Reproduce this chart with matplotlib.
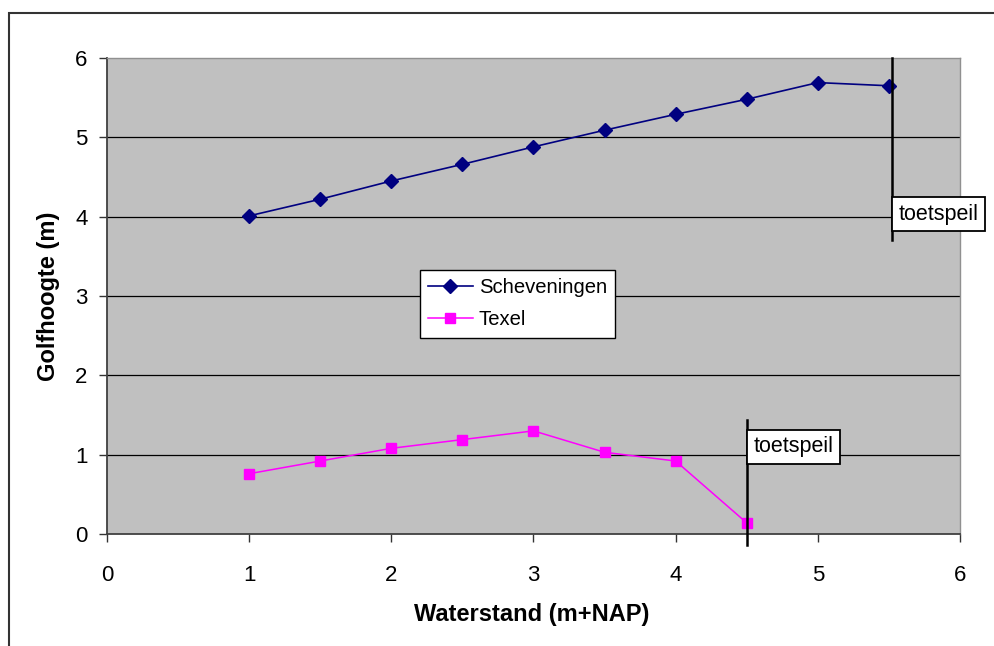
import matplotlib
matplotlib.use("Agg")
import matplotlib.pyplot as plt
from matplotlib.patches import Rectangle

plt.rcParams['font.family'] = ['Liberation Sans', 'DejaVu Sans']

# golfhoogte bij verschillende waterstanden
waterstand = [1.0, 1.5, 2.0, 2.5, 3.0, 3.5, 4.0, 4.5, 5.0, 5.5]
scheveningen = [4.01, 4.22, 4.45, 4.66, 4.88, 5.09, 5.29, 5.48, 5.69, 5.65]
waterstand_texel = [1.0, 1.5, 2.0, 2.5, 3.0, 3.5, 4.0, 4.5]
texel = [0.76, 0.92, 1.08, 1.19, 1.30, 1.03, 0.92, 0.14]

# toetspeil per locatie: x-positie en verticaal bereik van de lijn
toetspeil_x = [5.52, 4.5]
toetspeil_ymin = [3.71, -0.14]
toetspeil_ymax = [6.0, 1.44]
toetspeil_label_y = [4.03, 1.10]

fig = plt.figure(figsize=(9.95, 6.46), dpi=100)
ax = fig.add_axes([107/995, 1 - 534/646, 853/995, 476/646])
ax.set_facecolor('#C0C0C0')

# rand om de hele grafiek
fig.patches.append(Rectangle((9/995, -0.1), 1.2, 1 - 12.5/646 + 0.1,
                             transform=fig.transFigure, fill=False,
                             edgecolor='#333333', linewidth=1.5))

for y in range(1, 6):
    ax.axhline(y, color='black', linewidth=0.9, zorder=1)

ax.plot(waterstand, scheveningen, color='#000080', marker='D', markersize=7,
        linewidth=1.2, label='Scheveningen', zorder=3)
ax.plot(waterstand_texel, texel, color='#FF00FF', marker='s', markersize=7,
        linewidth=1.1, label='Texel', zorder=3)

for x, y0, y1, ly in zip(toetspeil_x, toetspeil_ymin, toetspeil_ymax, toetspeil_label_y):
    ax.plot([x, x], [y0, y1], color='black', linewidth=1.8, clip_on=False, zorder=4)
    ax.annotate('toetspeil', xy=(x, ly), xytext=(5, 0), textcoords='offset points',
                ha='left', va='center', fontsize=15.5, annotation_clip=False, zorder=5,
                bbox=dict(boxstyle='square,pad=0.3', facecolor='white',
                          edgecolor='black', linewidth=1.3))

ax.set_xlim(0, 6)
ax.set_ylim(0, 6)
ax.set_xticks(range(0, 7))
ax.set_yticks(range(0, 7))
ax.tick_params(axis='both', direction='out', length=6, width=1, color='#333333',
               labelsize=16, pad=8)
ax.tick_params(axis='x', pad=16)

for side in ['left', 'bottom']:
    ax.spines[side].set_color('#404040')
    ax.spines[side].set_linewidth(1.3)
for side in ['top', 'right']:
    ax.spines[side].set_color('#909090')
    ax.spines[side].set_linewidth(1)

ax.set_xlabel('Waterstand (m+NAP)', fontsize=17, fontweight='bold')
ax.set_ylabel('Golfhoogte (m)', fontsize=17, fontweight='bold')
ax.xaxis.set_label_coords(0.498, -0.145)
ax.yaxis.set_label_coords(-0.055, 0.5)

leg = ax.legend(loc='upper left', bbox_to_anchor=(420/995, 1 - 270/646),
                bbox_transform=fig.transFigure, borderaxespad=0, fontsize=14.6,
                fancybox=False, framealpha=1, edgecolor='black', handlelength=2.2,
                handletextpad=0.3, labelspacing=0.66, borderpad=0.4)
leg.get_frame().set_linewidth(1)

fig.savefig('out.png', dpi=100)
